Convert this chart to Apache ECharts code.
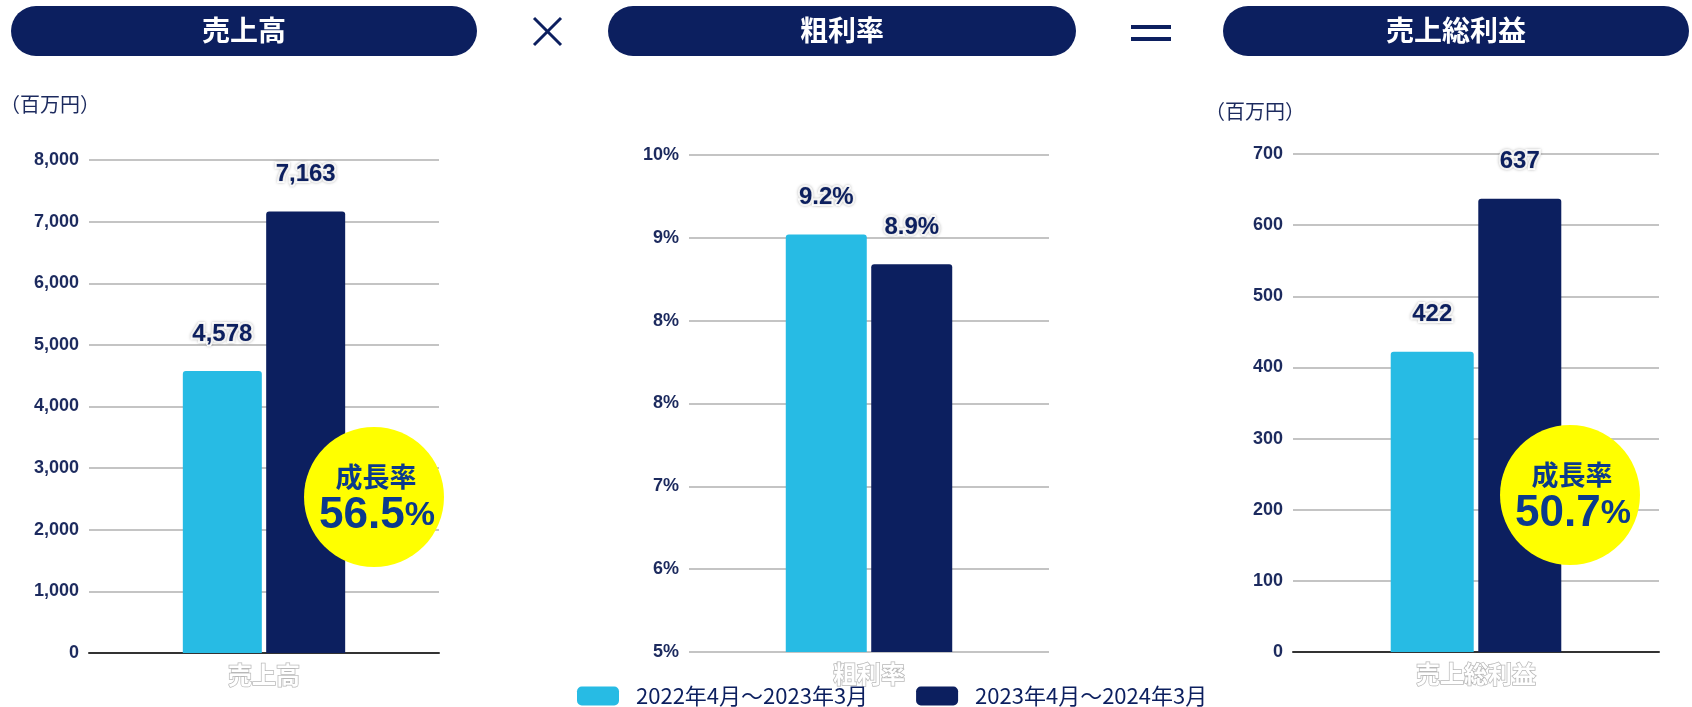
<!DOCTYPE html>
<html>
<head>
<meta charset="utf-8">
<script src="https://cdn.jsdelivr.net/npm/echarts@6/dist/echarts.min.js"></script>
<style>
html,body{margin:0;padding:0;background:#fff;}
#chart{width:1692px;height:707px;}
</style>
</head>
<body>
<div id="chart"></div>
<script>
// ---- data ----
const categories = ['売上高', '粗利率', '売上総利益'];
const seriesNames = ['2022年4月～2023年3月', '2023年4月～2024年3月'];
const salesValues = [4578, 7163];      // 百万円
const marginValues = [9.2, 8.9];       // %
const profitValues = [422, 637];       // 百万円
const salesTicks = [0, 1000, 2000, 3000, 4000, 5000, 6000, 7000, 8000];
const marginTicks = [5, 10];           // min / max, 6 intervals
const marginTickLabels = ['5%', '6%', '7%', '8%', '8%', '9%', '10%'];
const profitTicks = [0, 100, 200, 300, 400, 500, 600, 700];
const growthRates = ['56.5', '50.7'];
const unitLabel = '（百万円）';
const badgeTitle = '成長率';

// ---- styles ----
const NAVY = '#0c1f5f';
const LIGHT = '#27bbe4';
const AXIS_TXT = '#1c2a5e';
const BADGE_TXT = '#0b3a8c';
const CJK = '"Noto Sans CJK JP", sans-serif';
const LATIN = '"Liberation Sans", Arial, sans-serif';

const chart = echarts.init(document.getElementById('chart'), null, {renderer: 'canvas'});

const grids = [
  {left: 89, top: 160, width: 350, height: 493},
  {left: 689, top: 155, width: 360, height: 497},
  {left: 1293, top: 154, width: 366, height: 498}
];

function xAxis(i, showLine) {
  return {
    type: 'category', gridIndex: i, data: [categories[i]],
    axisTick: {show: false},
    axisLine: {show: showLine, lineStyle: {color: '#333', width: 2}},
    axisLabel: {
      color: '#fff', fontSize: 24, fontWeight: 'bold', fontFamily: CJK, margin: 10,
      textBorderColor: '#b8b8b8', textBorderWidth: 1.5
    }
  };
}
function yAxis(i, min, max, interval, fmt) {
  return {
    type: 'value', gridIndex: i, min: min, max: max, interval: interval,
    axisLine: {show: false}, axisTick: {show: false},
    splitLine: {show: true, lineStyle: {color: '#c4c4c4', width: 2}},
    axisLabel: {color: AXIS_TXT, fontSize: 18, fontWeight: 'bold', fontFamily: LATIN, margin: 10, formatter: fmt}
  };
}

const labelBase = {
  show: true, position: 'top', distance: 25,
  color: NAVY, fontSize: 24, fontWeight: 'bold', fontFamily: LATIN,
  textBorderColor: '#fff', textBorderWidth: 4,
  textShadowColor: 'rgba(0,0,0,0.25)', textShadowBlur: 3
};

function barSeries(gridIdx, k, values, width, fmt) {
  return {
    type: 'bar', name: seriesNames[k], xAxisIndex: gridIdx, yAxisIndex: gridIdx,
    data: [values[k]], barWidth: width, barGap: '5.5%',
    itemStyle: {color: k === 0 ? LIGHT : NAVY, borderRadius: [3, 3, 0, 0]},
    label: Object.assign({}, labelBase, {formatter: fmt}),
    emphasis: {disabled: true}
  };
}

const fmtComma = p => Number(p.value).toLocaleString('en-US');
const fmtPct = p => Number(p.value).toFixed(1) + '%';
const fmtPlain = p => String(p.value);

function pill(x, w, text) {
  return [
    {type: 'rect', shape: {x: x, y: 6, width: w, height: 50, r: 25}, style: {fill: NAVY}, silent: true},
    {type: 'text', style: {text: text, x: x + w / 2, y: 30, align: 'center', verticalAlign: 'middle',
      fill: '#fff', fontSize: 28, fontWeight: 'bold', fontFamily: CJK}, silent: true}
  ];
}
function badge(cx, cy, rate) {
  return [
    {type: 'circle', shape: {cx: cx, cy: cy, r: 70}, style: {fill: '#ffff00'}, silent: true, z: 100},
    {type: 'text', z: 101, silent: true, style: {text: badgeTitle, x: cx + 2, y: cy - 20, align: 'center', verticalAlign: 'middle',
      fill: BADGE_TXT, fontSize: 27, fontWeight: 'bold', fontFamily: CJK}},
    {type: 'text', z: 101, silent: true, style: {
      text: '{a|' + rate + '}{b|%}', x: cx + 3, y: cy + 19, align: 'center', verticalAlign: 'middle',
      rich: {
        a: {fill: BADGE_TXT, fontSize: 44, fontWeight: 'bold', fontFamily: LATIN},
        b: {fill: BADGE_TXT, fontSize: 34, fontWeight: 'bold', fontFamily: LATIN}
      }}}
  ];
}

const graphics = [].concat(
  pill(11, 466, categories[0]),
  pill(608, 468, categories[1]),
  pill(1223, 466, categories[2]),
  [
    {type: 'line', shape: {x1: 534, y1: 18, x2: 561, y2: 45}, style: {stroke: NAVY, lineWidth: 3}, silent: true},
    {type: 'line', shape: {x1: 561, y1: 18, x2: 534, y2: 45}, style: {stroke: NAVY, lineWidth: 3}, silent: true},
    {type: 'rect', shape: {x: 1131, y: 25, width: 40, height: 4}, style: {fill: NAVY}, silent: true},
    {type: 'rect', shape: {x: 1131, y: 37, width: 40, height: 4}, style: {fill: NAVY}, silent: true},
    {type: 'text', style: {text: unitLabel, x: 0, y: 104, align: 'left', verticalAlign: 'middle',
      fill: AXIS_TXT, fontSize: 20, fontFamily: CJK}, silent: true},
    {type: 'text', style: {text: unitLabel, x: 1205, y: 111, align: 'left', verticalAlign: 'middle',
      fill: AXIS_TXT, fontSize: 20, fontFamily: CJK}, silent: true}
  ],
  badge(374, 497, growthRates[0]),
  badge(1570, 495, growthRates[1])
);

const option = {
  animation: false,
  backgroundColor: '#fff',
  grid: grids,
  xAxis: [xAxis(0, true), xAxis(1, false), xAxis(2, true)],
  yAxis: [
    yAxis(0, salesTicks[0], salesTicks[salesTicks.length - 1], salesTicks[1] - salesTicks[0],
      v => Number(v).toLocaleString('en-US')),
    yAxis(1, marginTicks[0], marginTicks[1], (marginTicks[1] - marginTicks[0]) / (marginTickLabels.length - 1),
      (v, i) => marginTickLabels[i]),
    yAxis(2, profitTicks[0], profitTicks[profitTicks.length - 1], profitTicks[1] - profitTicks[0],
      v => String(v))
  ],
  legend: {
    data: seriesNames, left: 572, top: 680, itemWidth: 42, itemHeight: 19, itemGap: 48,
    icon: 'roundRect', selectedMode: false,
    textStyle: {color: NAVY, fontSize: 22, fontFamily: CJK, padding: [0, 0, 0, 12]}
  },
  series: [
    barSeries(0, 0, salesValues, 79, fmtComma),
    barSeries(0, 1, salesValues, 79, fmtComma),
    barSeries(1, 0, marginValues, 81, fmtPct),
    barSeries(1, 1, marginValues, 81, fmtPct),
    barSeries(2, 0, profitValues, 83, fmtPlain),
    barSeries(2, 1, profitValues, 83, fmtPlain)
  ],
  graphic: graphics
};
chart.setOption(option);
</script>
</body>
</html>
